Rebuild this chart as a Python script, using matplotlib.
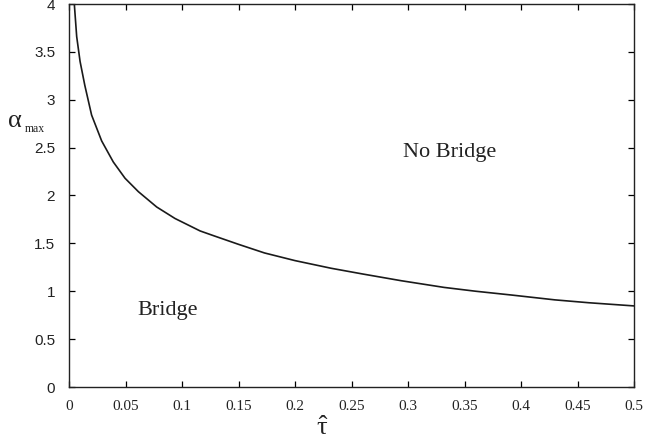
import matplotlib
matplotlib.use("Agg")
import matplotlib.pyplot as plt

plt.rcParams["mathtext.fontset"] = "custom"
plt.rcParams["mathtext.rm"] = "Liberation Serif"
plt.rcParams["mathtext.it"] = "Liberation Serif"
plt.rcParams["mathtext.bf"] = "Liberation Serif:bold"

tau_hat = [0.0047, 0.0068, 0.0098, 0.0140, 0.0200, 0.0289, 0.0392, 0.0496, 0.0614,
           0.0776, 0.0938, 0.116, 0.128, 0.150, 0.173, 0.200, 0.232, 0.260, 0.294,
           0.332, 0.360, 0.392, 0.430, 0.460, 0.501]
alpha_max = [4.00, 3.66, 3.40, 3.15, 2.84, 2.57, 2.35, 2.18, 2.04,
             1.88, 1.76, 1.63, 1.58, 1.49, 1.40, 1.32, 1.24, 1.18, 1.11,
             1.04, 1.00, 0.96, 0.91, 0.88, 0.846]

x_ticks = [0, 0.05, 0.1, 0.15, 0.2, 0.25, 0.3, 0.35, 0.4, 0.45, 0.5]
x_tick_labels = ["0", "0.05", "0.1", "0.15", "0.2", "0.25", "0.3", "0.35", "0.4", "0.45", "0.5"]
y_ticks = [0, 0.5, 1, 1.5, 2, 2.5, 3, 3.5, 4]
y_tick_labels = ["0", "0.5", "1", "1.5", "2", "2.5", "3", "3.5", "4"]

fig = plt.figure(figsize=(6.46, 4.44), dpi=100)
ax = fig.add_axes([69/646, 1-387/444, (634-69)/646, (387-4)/444])
ax.plot(tau_hat, alpha_max, color="#1a1a1a", lw=1.2)
ax.set_xlim(0, 0.5)
ax.set_ylim(0, 4)

ax.set_xticks(x_ticks)
ax.set_xticklabels(x_tick_labels, family="Liberation Serif", fontsize=11, color="#222222")
ax.set_yticks(y_ticks)
ax.set_yticklabels(y_tick_labels, family="Liberation Sans", fontsize=11, color="#222222")
ax.tick_params(direction="in", top=True, right=True, length=4, width=0.9)
ax.tick_params(axis="x", pad=9)
ax.tick_params(axis="y", pad=10)
for s in ax.spines.values():
    s.set_linewidth(1.0)
    s.set_color("#222222")

ax.text(0.337, 2.45, "No Bridge", family="Liberation Serif", fontsize=16,
        ha="center", va="center", color="#222222")
ax.text(0.087, 0.80, "Bridge", family="Liberation Serif", fontsize=16,
        ha="center", va="center", color="#222222")

fig.text(15/646, 1-121/444, "α", family="Liberation Serif", fontsize=19,
         ha="center", va="center", color="#222222")
fig.text(35/646, 1-129/444, "max", family="Liberation Serif", fontsize=8.5,
         ha="center", va="center", color="#222222")
fig.text(323/646, 1-435/444, r"$\hat{\tau}$", fontsize=19,
         ha="center", va="baseline", color="#222222")

fig.savefig("out.png", dpi=100)
